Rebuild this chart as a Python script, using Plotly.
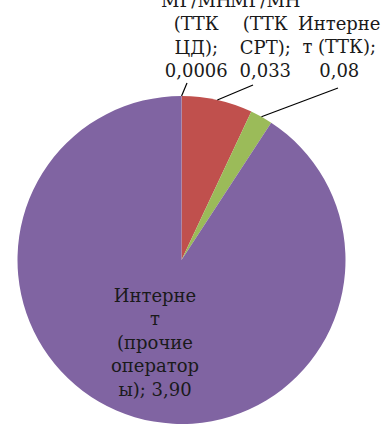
import math
import plotly.graph_objects as go

# ---- data ----
categories = [
    "МГ/МН (ТТК ЦД)",
    "МГ/МН (ТТК СРТ)",
    "Интернет (ТТК)",
    "Интернет (прочие операторы)",
]
# slice sizes as drawn in the picture
slice_sizes = [0.0006, 0.30, 0.095, 3.90]
# value labels as printed on the chart
value_labels = ["0,0006", "0,033", "0,08", "3,90"]
label_texts = [
    "МГ/МН<br>(ТТК<br>ЦД);<br>" + value_labels[0],
    "МГ/МН<br>(ТТК<br>СРТ);<br>" + value_labels[1],
    "Интерне<br>т (ТТК);<br>" + value_labels[2],
    "Интерне<br>т<br>(прочие<br>оператор<br>ы); " + value_labels[3],
]
colors = ["#4F81BD", "#C0504D", "#9BBB59", "#8064A2"]

W, H = 383, 424
R = 164
CX, CY = 181.5, H - R

FONT = dict(family="DejaVu Serif", size=18, color="#1a1a1a")

fig = go.Figure(go.Pie(
    labels=categories,
    values=slice_sizes,
    marker=dict(colors=colors, line=dict(width=0)),
    sort=False,
    direction="clockwise",
    rotation=0,
    textinfo="none",
    hoverinfo="label+value",
    showlegend=False,
    domain=dict(x=[(CX - R) / W, (CX + R) / W], y=[0, 2 * R / H]),
))

# label anchor positions (pixels) and leader-line starts
label_pos = [(196, 83), (265, 83), (339, 83)]
line_start = [(187, 83), (253, 85), (338, 88)]

total = sum(slice_sizes)
cum = 0.0
shapes = []
annotations = []
for i, v in enumerate(slice_sizes):
    mid = (cum + v / 2) / total * 2 * math.pi
    cum += v
    if i < 3:
        tx = CX + R * math.sin(mid)
        ty = CY - R * math.cos(mid)
        sx, sy = line_start[i]
        shapes.append(dict(type="line", xref="paper", yref="paper",
                           x0=sx / W, y0=1 - sy / H, x1=tx / W, y1=1 - ty / H,
                           line=dict(color="#000000", width=1.2)))
        lx, ly = label_pos[i]
        annotations.append(dict(text=label_texts[i], x=lx / W, y=1 - ly / H,
                                xref="paper", yref="paper", xanchor="center",
                                yanchor="bottom", showarrow=False, align="center",
                                font=FONT))
    else:
        annotations.append(dict(text=label_texts[i], x=155 / W, y=1 - 342 / H,
                                xref="paper", yref="paper", xanchor="center",
                                yanchor="middle", showarrow=False, align="center",
                                font=FONT))

fig.update_layout(
    width=W, height=H,
    margin=dict(l=0, r=0, t=0, b=0),
    paper_bgcolor="white",
    plot_bgcolor="white",
    font=dict(family="DejaVu Serif"),
    shapes=shapes,
    annotations=annotations,
)

fig.write_html("out.html", config={"displayModeBar": False},
               post_script="document.body.style.margin='0';")
